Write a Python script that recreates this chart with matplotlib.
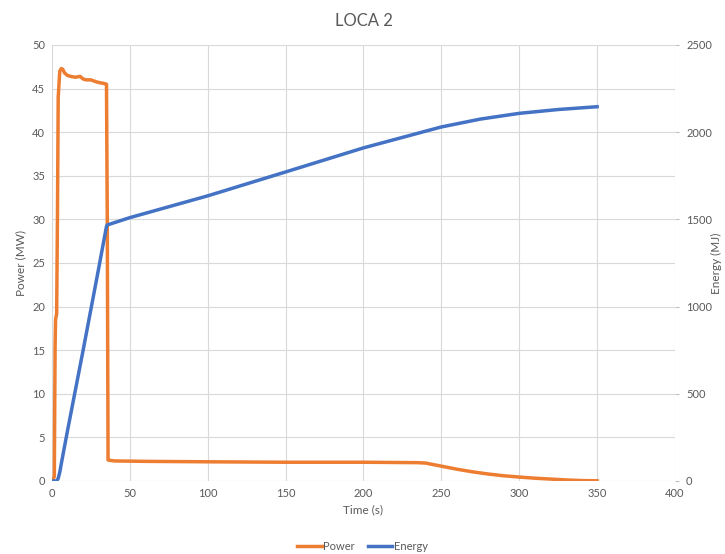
import matplotlib
matplotlib.use("Agg")
import matplotlib.pyplot as plt

plt.rcParams["font.family"] = ["Lato", "DejaVu Sans"]

# power trace (MW)
t_power = [0, 1.5, 2, 2.3, 3, 3.5, 4, 5, 6, 7, 8, 10, 12, 15, 18, 20, 22, 25, 28, 30,
           33, 35, 35.5, 36, 40, 60, 100, 150, 200, 235, 240, 250, 260, 270, 280,
           290, 300, 310, 320, 330, 340, 350]
power = [0, 0.5, 15.5, 18.5, 19.2, 30, 44, 47, 47.3, 47.2, 46.8, 46.5, 46.4, 46.3, 46.4,
         46.1, 46.0, 46.0, 45.8, 45.7, 45.6, 45.5, 30, 2.4, 2.3, 2.25, 2.2, 2.15, 2.15,
         2.1, 2.05, 1.7, 1.35, 1.05, 0.8, 0.6, 0.45, 0.32, 0.22, 0.12, 0.05, 0.02]

# cumulative energy (MJ)
t_energy = [0, 3, 4, 5, 6, 10, 15, 20, 25, 30, 35, 35.5, 50, 100, 150, 200, 225,
            250, 275, 300, 325, 350]
energy = [0, 0, 15, 50, 100, 290, 520, 750, 985, 1220, 1460, 1468, 1510, 1635, 1772,
          1910, 1970, 2030, 2075, 2108, 2130, 2146]

orange = "#ED7D31"
blue = "#4472C4"
grey = "#595959"

fig = plt.figure(figsize=(7.25, 5.54), dpi=100)
ax = fig.add_axes([0.0717, 0.1318, 0.8593, 0.787])

ax.plot(t_power, power, color=orange, lw=2.5, label="Power", zorder=3)
ax.set_xlim(0, 400)
ax.set_ylim(0, 50)
ax.set_xticks(range(0, 401, 50))
ax.set_yticks(range(0, 51, 5))
ax.grid(True, color="#d9d9d9", lw=0.8)
ax.set_axisbelow(True)
for s in ax.spines.values():
    s.set_visible(False)
ax.tick_params(length=0, labelsize=8, colors=grey, pad=5)
ax.set_xlabel("Time (s)", fontsize=8.5, color=grey)
ax.set_ylabel("Power (MW)", fontsize=8.5, color=grey)
ax.set_title("LOCA 2", fontsize=12, color=grey, pad=14)

ax2 = ax.twinx()
ax2.plot(t_energy, energy, color=blue, lw=2.5, label="Energy", zorder=3)
ax2.set_ylim(0, 2500)
ax2.set_yticks(range(0, 2501, 500))
for s in ax2.spines.values():
    s.set_visible(False)
ax2.tick_params(length=3, color="#bfbfbf", labelsize=8, colors=grey, pad=5)
ax2.set_ylabel("Energy (MJ)", fontsize=8.5, color=grey, labelpad=-1)

h1, l1 = ax.get_legend_handles_labels()
h2, l2 = ax2.get_legend_handles_labels()
fig.legend(h1 + h2, l1 + l2, loc="lower center", bbox_to_anchor=(0.5, -0.015),
           ncol=2, frameon=False, fontsize=8, handlelength=2.2, handletextpad=0.1,
           columnspacing=1.2, labelcolor=grey)

fig.savefig("out.png", dpi=100)
